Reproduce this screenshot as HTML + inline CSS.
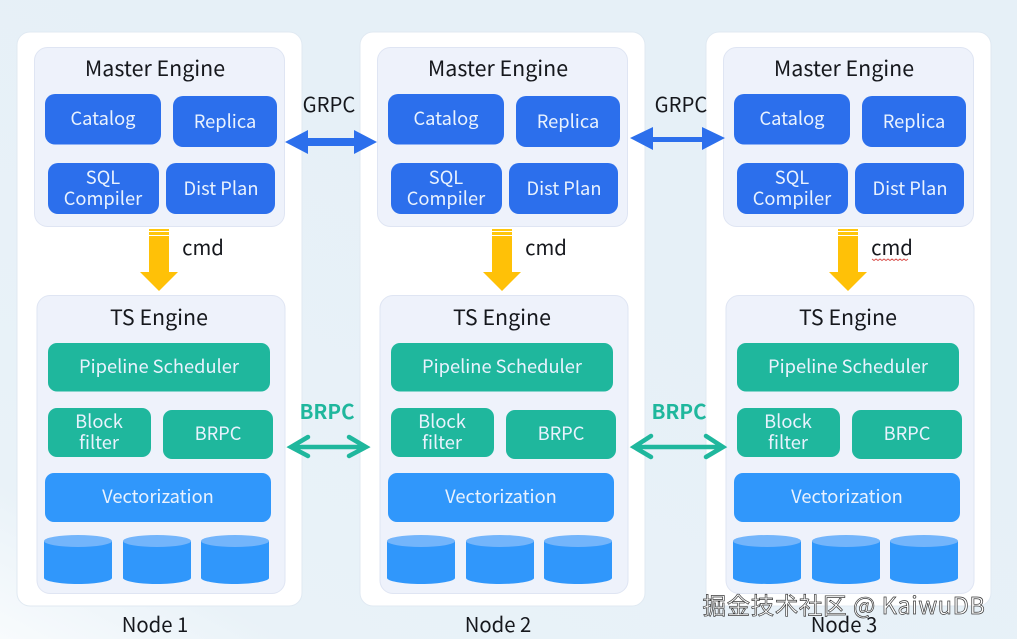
<!DOCTYPE html>
<html lang="en">
<head>
<meta charset="utf-8">
<style>
html,body{margin:0;padding:0;background:#e9f2f8}
svg{display:block}
text{font-family:"Noto Sans CJK JP","Liberation Sans",sans-serif;text-anchor:middle}
.t{font-size:21.400px;fill:#16181d}
.w{font-size:18.300px;fill:#e9f2fe}
.lab{font-size:20.300px;fill:#16181d}
.panel{fill:#eef2fb;stroke:#dfe5f3;stroke-width:1}
.node{fill:#fff;stroke:#e0e9f2;stroke-width:1}
.b{fill:#2c6fec}
.g{fill:#1fb79d}
.v{fill:#3097fb}
.top{fill:#73b5fb}
</style>
</head>
<body>
<svg width="1017" height="639" viewBox="0 0 1017 639" xmlns="http://www.w3.org/2000/svg">
<defs>
<linearGradient id="bg" x1="0" y1="1" x2="0.6" y2="0.3">
<stop offset="0" stop-color="#f8fbfd"/>
<stop offset="0.2" stop-color="#e9f2f8"/>
<stop offset="1" stop-color="#e6f0f7"/>
</linearGradient>
<g id="cyl">
<path class="v" d="M0 6V43C0 46 15 49 34 49S68 46 68 43V6Z"/>
<ellipse class="top" cx="34" cy="6" rx="34" ry="6"/>
</g>
<g id="cmdarrow">
<rect x="149" y="229" width="20" height="2" fill="#ffc60b"/>
<rect x="149" y="232" width="20" height="3" fill="#ffc60b"/>
<path fill="#ffc107" d="M149 236H169V272H178L159 291L140 272H149Z"/>
</g>
<g id="shapes">
<rect class="panel" x="34.500" y="47.500" width="250" height="179" rx="13"/>
<rect class="b" x="45" y="94" width="116" height="50.500" rx="10"/>
<rect class="b" x="173" y="96" width="104" height="51" rx="10"/>
<rect class="b" x="48" y="163" width="111" height="51" rx="10"/>
<rect class="b" x="166" y="163" width="109" height="51" rx="10"/>
<use href="#cmdarrow"/>
<rect class="panel" x="37" y="295.500" width="248" height="298" rx="13"/>
<rect class="g" x="48" y="343" width="222" height="48.500" rx="9"/>
<rect class="g" x="48" y="408" width="103" height="49" rx="9"/>
<rect class="g" x="163" y="410" width="110" height="49" rx="9"/>
<rect class="v" x="45" y="473" width="226" height="49" rx="9"/>
<use href="#cyl" x="44" y="535"/>
<use href="#cyl" x="123" y="535"/>
<use href="#cyl" x="201" y="535"/>
</g>
</defs>

<rect width="1017" height="639" fill="url(#bg)"/>

<rect class="node" x="17" y="32" width="285" height="574" rx="13"/>
<rect class="node" x="360" y="32" width="285" height="574" rx="13"/>
<rect class="node" x="706" y="32" width="285" height="574" rx="13"/>

<use href="#shapes"/>
<use href="#shapes" x="343"/>
<use href="#shapes" x="689"/>

<!-- Node 1 -->
<text class="t" x="155" y="76">Master Engine</text>
<text class="w" x="103" y="125">Catalog</text>
<text class="w" x="225" y="128">Replica</text>
<text class="w" x="103" y="184">SQL</text>
<text class="w" x="103" y="205">Compiler</text>
<text class="w" x="221" y="195">Dist Plan</text>
<text class="lab" x="203" y="255">cmd</text>
<text class="t" x="159" y="325">TS Engine</text>
<text class="w" x="159" y="373">Pipeline Scheduler</text>
<text class="w" x="99" y="428">Block</text>
<text class="w" x="99" y="449">filter</text>
<text class="w" x="218" y="440">BRPC</text>
<text class="w" x="158" y="503">Vectorization</text>
<text class="lab" x="155" y="632">Node 1</text>

<!-- Node 2 -->
<text class="t" x="498" y="76">Master Engine</text>
<text class="w" x="446" y="125">Catalog</text>
<text class="w" x="568" y="128">Replica</text>
<text class="w" x="446" y="184">SQL</text>
<text class="w" x="446" y="205">Compiler</text>
<text class="w" x="564" y="195">Dist Plan</text>
<text class="lab" x="546" y="255">cmd</text>
<text class="t" x="502" y="325">TS Engine</text>
<text class="w" x="502" y="373">Pipeline Scheduler</text>
<text class="w" x="442" y="428">Block</text>
<text class="w" x="442" y="449">filter</text>
<text class="w" x="561" y="440">BRPC</text>
<text class="w" x="501" y="503">Vectorization</text>
<text class="lab" x="498" y="632">Node 2</text>

<!-- Node 3 -->
<text class="t" x="844" y="76">Master Engine</text>
<text class="w" x="792" y="125">Catalog</text>
<text class="w" x="914" y="128">Replica</text>
<text class="w" x="792" y="184">SQL</text>
<text class="w" x="792" y="205">Compiler</text>
<text class="w" x="910" y="195">Dist Plan</text>
<text class="lab" x="892" y="255">cmd</text>
<path d="M872 259l2 1.500 2-1.500 2 1.500 2-1.500 2 1.500 2-1.500 2 1.500 2-1.500 2 1.500 2-1.500 2 1.500 2-1.500 2 1.500 2-1.500 2 1.500 2-1.500 2 1.500 2-1.500" fill="none" stroke="#d9534f" stroke-width="1"/>
<text class="t" x="848" y="325">TS Engine</text>
<text class="w" x="848" y="373">Pipeline Scheduler</text>
<text class="w" x="788" y="428">Block</text>
<text class="w" x="788" y="449">filter</text>
<text class="w" x="907" y="440">BRPC</text>
<text class="w" x="847" y="503">Vectorization</text>
<text class="lab" x="844" y="632">Node 3</text>

<!-- GRPC -->
<text class="lab" x="329" y="112">GRPC</text>
<text class="lab" x="681" y="112">GRPC</text>
<path fill="#2c6fec" d="M285 142L308 130V138H354V130L377 142L354 154V146H308V154Z"/>
<path fill="#2c6fec" d="M630 138V138L653 127V137H702V127L725 138L702 150V142H653V150L630 138Z"/>

<!-- BRPC -->
<text x="327" y="419" font-size="20.500" font-weight="700" fill="#1fb79d">BRPC</text>
<text x="679" y="419" font-size="20.500" font-weight="700" fill="#1fb79d">BRPC</text>
<g fill="none" stroke="#1fb79d" stroke-width="4.500" stroke-linecap="round" stroke-linejoin="miter">
<path d="M291 447H366M308 437L291 447L308 456M349 437L366 447L349 456"/>
<path d="M634 447H723M651 436L634 447L651 457M706 436L723 447L706 457"/>
</g>

<!-- Watermark -->
<text x="844" y="614" font-size="23.500" fill="#fff" stroke="#3a3a3a" stroke-width="0.700" style="letter-spacing:0.600px">掘金技术社区 @ KaiwuDB</text>
</svg>
</body>
</html>
